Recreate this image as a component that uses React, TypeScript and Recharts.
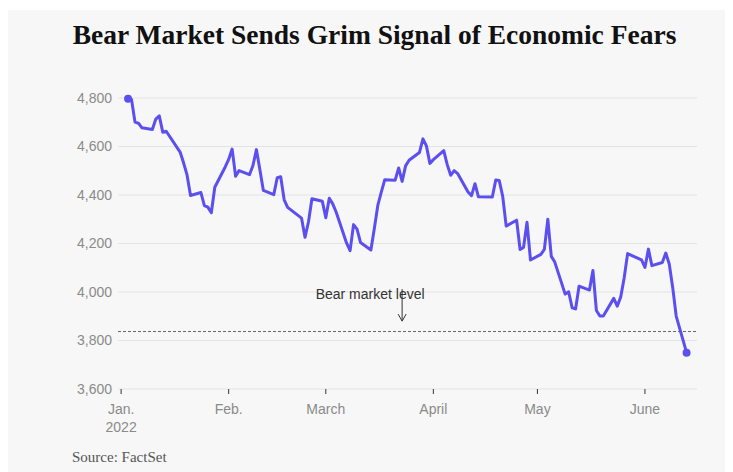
import React from 'react';
import {
  LineChart,
  Line,
  XAxis,
  YAxis,
  CartesianGrid,
  ReferenceLine,
} from 'recharts';

// S&P 500 daily closes, Jan 3 - Jun 13, 2022
const dates = [
  '2022-01-03', '2022-01-04', '2022-01-05', '2022-01-06', '2022-01-07',
  '2022-01-10', '2022-01-11', '2022-01-12', '2022-01-13', '2022-01-14',
  '2022-01-18', '2022-01-19', '2022-01-20', '2022-01-21', '2022-01-24',
  '2022-01-25', '2022-01-26', '2022-01-27', '2022-01-28', '2022-01-31',
  '2022-02-01', '2022-02-02', '2022-02-03', '2022-02-04', '2022-02-07',
  '2022-02-08', '2022-02-09', '2022-02-10', '2022-02-11', '2022-02-14',
  '2022-02-15', '2022-02-16', '2022-02-17', '2022-02-18', '2022-02-22',
  '2022-02-23', '2022-02-24', '2022-02-25', '2022-02-28', '2022-03-01',
  '2022-03-02', '2022-03-03', '2022-03-04', '2022-03-07', '2022-03-08',
  '2022-03-09', '2022-03-10', '2022-03-11', '2022-03-14', '2022-03-15',
  '2022-03-16', '2022-03-17', '2022-03-18', '2022-03-21', '2022-03-22',
  '2022-03-23', '2022-03-24', '2022-03-25', '2022-03-28', '2022-03-29',
  '2022-03-30', '2022-03-31', '2022-04-01', '2022-04-04', '2022-04-05',
  '2022-04-06', '2022-04-07', '2022-04-08', '2022-04-11', '2022-04-12',
  '2022-04-13', '2022-04-14', '2022-04-18', '2022-04-19', '2022-04-20',
  '2022-04-21', '2022-04-22', '2022-04-25', '2022-04-26', '2022-04-27',
  '2022-04-28', '2022-04-29', '2022-05-02', '2022-05-03', '2022-05-04',
  '2022-05-05', '2022-05-06', '2022-05-09', '2022-05-10', '2022-05-11',
  '2022-05-12', '2022-05-13', '2022-05-16', '2022-05-17', '2022-05-18',
  '2022-05-19', '2022-05-20', '2022-05-23', '2022-05-24', '2022-05-25',
  '2022-05-26', '2022-05-27', '2022-05-31', '2022-06-01', '2022-06-02',
  '2022-06-03', '2022-06-06', '2022-06-07', '2022-06-08', '2022-06-09',
  '2022-06-10', '2022-06-13',
];

const closes = [
  4796.56, 4793.54, 4700.58, 4696.05, 4677.03,
  4670.29, 4713.07, 4726.35, 4659.03, 4662.85,
  4577.11, 4532.76, 4482.73, 4397.94, 4410.13,
  4356.45, 4349.93, 4326.51, 4431.85, 4515.55,
  4546.54, 4589.38, 4477.44, 4500.53, 4483.87,
  4521.54, 4587.18, 4504.08, 4418.64, 4401.67,
  4471.07, 4475.01, 4380.26, 4348.87, 4304.76,
  4225.5, 4288.7, 4384.65, 4373.94, 4306.26,
  4386.54, 4363.49, 4328.87, 4201.09, 4170.7,
  4277.88, 4259.52, 4204.31, 4173.11, 4262.45,
  4357.86, 4411.67, 4463.12, 4461.18, 4511.61,
  4456.24, 4520.16, 4543.06, 4575.52, 4631.6,
  4602.45, 4530.41, 4545.86, 4582.64, 4525.12,
  4481.15, 4500.21, 4488.28, 4412.53, 4397.45,
  4446.59, 4392.59, 4391.69, 4462.21, 4459.45,
  4393.66, 4271.78, 4296.12, 4175.2, 4183.96,
  4287.5, 4131.93, 4155.38, 4175.48, 4300.17,
  4146.87, 4123.34, 3991.24, 4001.05, 3935.18,
  3930.08, 4023.89, 4008.01, 4088.85, 3923.68,
  3900.79, 3901.36, 3973.75, 3941.48, 3978.73,
  4057.84, 4158.24, 4132.15, 4101.23, 4176.82,
  4108.54, 4121.43, 4160.68, 4115.77, 4017.82,
  3900.86, 3749.63,
];

const monthTicks = [0, 31, 59, 90, 120, 151]; // days since Jan 1
const monthLabels = ['Jan.', 'Feb.', 'March', 'April', 'May', 'June'];
const yTicks = [3600, 3800, 4000, 4200, 4400, 4600, 4800];

const bearLevel = 3837; // 20% below the January record close
const arrowDay = 81;
const arrowTop = 4012;
const arrowBottom = 3880;

const JAN1 = Date.UTC(2022, 0, 1);
const data = dates.map((d, i) => ({
  day: (Date.parse(d) - JAN1) / 86400000,
  close: closes[i],
}));

const LINE_COLOR = '#5B4FF0';
const SANS = '"Liberation Sans", Arial, sans-serif';
const SERIF = '"Liberation Serif", "Times New Roman", serif';

const MonthTick = ({ x, y, payload }: any) => {
  const idx = monthTicks.indexOf(payload.value);
  return (
    <text x={x} y={y} textAnchor="middle" fill="#8a8a8a" fontSize={14} fontFamily={SANS}>
      <tspan x={x} dy="0.71em">{monthLabels[idx]}</tspan>
      {idx === 0 && (
        <tspan x={x} dy={18}>2022</tspan>
      )}
    </text>
  );
};

const ArrowNote = ({ x1, y1, y2 }: any) => (
  <g>
    <text x={x1 - 32} y={y1 + 10} textAnchor="middle" fill="#333" fontSize={14} fontFamily={SANS}>
      Bear market level
    </text>
    <line x1={x1} y1={y1} x2={x1} y2={y2} stroke="#333" strokeWidth={1} />
    <path d={`M${x1 - 4},${y2 - 7} L${x1},${y2} L${x1 + 4},${y2 - 7}`} fill="none" stroke="#333" strokeWidth={1} />
  </g>
);

const EndDot = (props: any) => {
  const { cx, cy, index } = props;
  if (index === 0 || index === data.length - 1) {
    return <circle key={`dot-${index}`} cx={cx} cy={cy} r={4} fill={LINE_COLOR} stroke="none" />;
  }
  return <g key={`dot-${index}`} />;
};

export default function App() {
  return (
    <div
      style={{
        position: 'relative',
        marginTop: 2,
        width: 725,
        height: 462,
        background: '#f7f7f7',
      }}
    >
      <div
        style={{
          position: 'absolute',
          top: 11,
          left: 0,
          width: 733,
          textAlign: 'center',
          fontFamily: SERIF,
          fontWeight: 'bold',
          fontSize: 27.5,
          lineHeight: 1,
          color: '#111',
          whiteSpace: 'nowrap',
        }}
      >
        Bear Market Sends Grim Signal of Economic Fears
      </div>

      <LineChart
        width={725}
        height={462}
        data={data}
        margin={{ top: 88, right: 36, bottom: 53, left: 50 }}
      >
        <CartesianGrid vertical={false} stroke="#e3e3e3" />
        <XAxis
          dataKey="day"
          type="number"
          domain={[-0.9, 166]}
          ticks={monthTicks}
          tick={<MonthTick />}
          axisLine={false}
          tickLine={{ stroke: '#333' }}
          tickSize={5}
          tickMargin={10}
          height={30}
          interval={0}
        />
        <YAxis
          type="number"
          domain={[3600, 4800]}
          ticks={yTicks}
          tickFormatter={(v: number) => v.toLocaleString('en-US')}
          tick={{ fill: '#8a8a8a', fontSize: 14, fontFamily: SANS }}
          axisLine={false}
          tickLine={false}
          tickSize={0}
          tickMargin={6}
          width={60}
          interval={0}
        />
        <ReferenceLine
          y={bearLevel}
          stroke="#666"
          strokeDasharray="3 2"
          strokeWidth={1}
        />
        <ReferenceLine
          segment={[
            { x: arrowDay, y: arrowTop },
            { x: arrowDay, y: arrowBottom },
          ]}
          shape={<ArrowNote />}
        />
        <Line
          dataKey="close"
          type="linear"
          stroke={LINE_COLOR}
          strokeWidth={3}
          strokeLinejoin="round"
          dot={EndDot}
          activeDot={false}
          isAnimationActive={false}
        />
      </LineChart>

      <div
        style={{
          position: 'absolute',
          top: 440,
          left: 64,
          fontFamily: SERIF,
          fontSize: 15,
          lineHeight: 1,
          color: '#555',
        }}
      >
        Source: FactSet
      </div>
    </div>
  );
}
